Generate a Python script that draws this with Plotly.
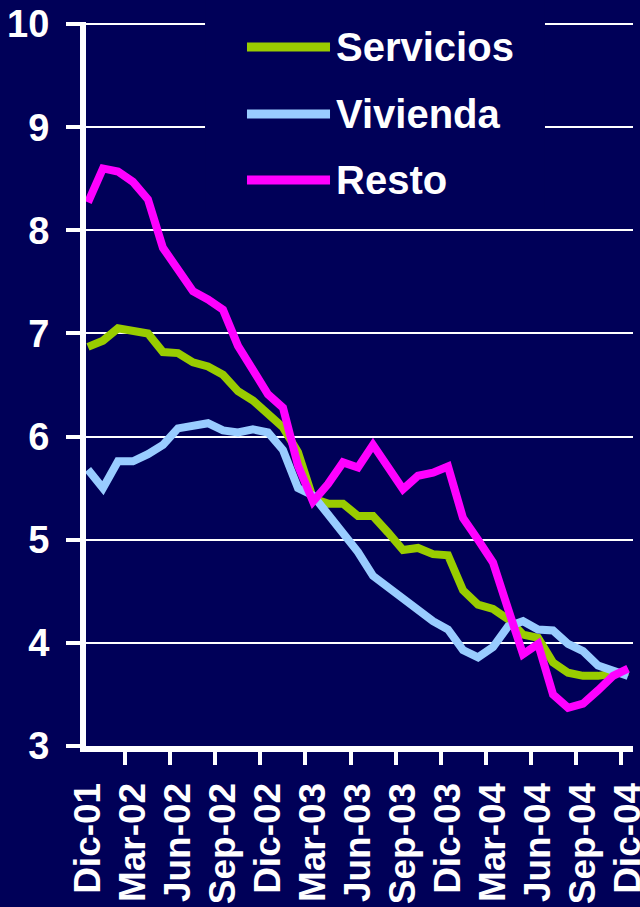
import plotly.graph_objects as go

# meses Dic-01 .. Dic-04
meses = ["Dic-01", "Ene-02", "Feb-02", "Mar-02", "Abr-02", "May-02", "Jun-02", "Jul-02", "Ago-02",
         "Sep-02", "Oct-02", "Nov-02", "Dic-02", "Ene-03", "Feb-03", "Mar-03", "Abr-03", "May-03",
         "Jun-03", "Jul-03", "Ago-03", "Sep-03", "Oct-03", "Nov-03", "Dic-03", "Ene-04", "Feb-04",
         "Mar-04", "Abr-04", "May-04", "Jun-04", "Jul-04", "Ago-04", "Sep-04", "Oct-04", "Nov-04",
         "Dic-04"]

servicios = [6.87, 6.93, 7.05, 7.03, 7.00, 6.82, 6.81, 6.72, 6.68, 6.60, 6.44, 6.35, 6.21,
             6.09, 5.85, 5.40, 5.35, 5.35, 5.23, 5.23, 5.07, 4.90, 4.92, 4.86, 4.85, 4.51,
             4.37, 4.33, 4.23, 4.08, 4.05, 3.81, 3.71, 3.68, 3.68, 3.70, 3.72]
vivienda = [5.68, 5.50, 5.76, 5.76, 5.83, 5.92, 6.08, 6.11, 6.13, 6.06, 6.04, 6.07, 6.04,
            5.87, 5.50, 5.43, 5.25, 5.05, 4.88, 4.65, 4.54, 4.42, 4.33, 4.21, 4.13, 3.93,
            3.86, 3.96, 4.16, 4.21, 4.13, 4.12, 3.99, 3.92, 3.78, 3.73, 3.68]
resto = [8.27, 8.60, 8.57, 8.47, 8.30, 7.83, 7.62, 7.41, 7.33, 7.23, 6.88, 6.65, 6.41,
         6.28, 5.72, 5.37, 5.54, 5.75, 5.70, 5.92, 5.71, 5.49, 5.62, 5.65, 5.71, 5.21,
         5.00, 4.78, 4.33, 3.89, 3.99, 3.50, 3.37, 3.41, 3.54, 3.68, 3.75]

series = [("Servicios", servicios, "#99CC00"),
          ("Vivienda", vivienda, "#99CCFF"),
          ("Resto", resto, "#FF00FF")]

fondo = "#000058"
fuente = "Liberation Sans, Arial, sans-serif"

fig = go.Figure()
for nombre, valores, color in series:
    fig.add_trace(go.Scatter(x=meses, y=valores, name=nombre, mode="lines",
                             line=dict(color=color, width=8)))

# leyenda dibujada a mano (muestras largas como en el original); el fondo tapa la rejilla
fig.add_shape(type="rect", xref="paper", yref="paper", x0=0.2176, x1=0.8391, y0=0.74, y1=1.05,
              fillcolor=fondo, line_width=0, layer="above")
ley_y = [0.9655, 0.8729, 0.7818]
for (nombre, valores, color), yy in zip(series, ley_y):
    fig.add_shape(type="line", xref="paper", yref="paper", x0=0.2943, x1=0.4461, y0=yy, y1=yy,
                  line=dict(color=color, width=9), layer="above")
    fig.add_annotation(xref="paper", yref="paper", x=0.4534, y=yy, text=nombre, showarrow=False,
                       xanchor="left", yanchor="middle",
                       font=dict(family=fuente, size=40, color="white", weight="bold"))

fig.update_xaxes(type="category", range=[-0.13, 36.33], tickmode="linear", tick0=0, dtick=3,
                 tickson="boundaries", ticks="outside", ticklen=13, tickwidth=4, tickcolor="white",
                 tickangle=-90, ticklabelstandoff=16, showgrid=False, automargin=False,
                 showline=True, linecolor="white", linewidth=6,
                 tickfont=dict(family=fuente, size=37, color="white", weight="bold"))
fig.update_yaxes(range=[3, 10.02], dtick=1, ticks="outside", ticklen=14, tickwidth=4, tickcolor="white",
                 showgrid=True, gridcolor="white", gridwidth=2, zeroline=False, automargin=False,
                 showline=True, linecolor="white", linewidth=6, ticklabelstandoff=9,
                 tickfont=dict(family=fuente, size=38, color="white", weight="bold"))

fig.update_layout(width=640, height=907, paper_bgcolor=fondo, plot_bgcolor=fondo,
                  margin=dict(l=86, r=7, t=22, b=161), showlegend=False)

# sin el margen blanco del body ni la barra de herramientas
fig.write_html("out.html", config={"displayModeBar": False},
               post_script="document.body.style.margin='0';")
